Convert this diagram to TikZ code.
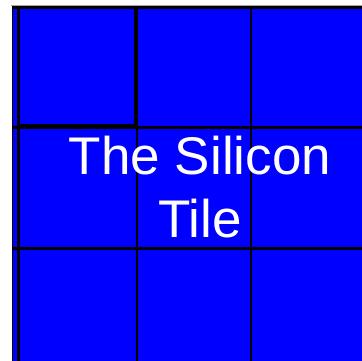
\documentclass[tikz,border=0pt]{standalone}
\usepackage{fontspec}
\setmainfont{Liberation Sans}
\begin{document}
\begin{tikzpicture}[x=1pt, y=-1pt,
  gridline/.style={black, line width=2.2pt},
  rowline/.style={black, line width=2.8pt},
  cellframe/.style={black, line width=3pt}]

% page frame, same size as the reference
\useasboundingbox (0,0) rectangle (362,361);

\begin{scope}
\clip (0,0) rectangle (362,361);
% tile body, runs off to the right and bottom
\fill[blue] (12,6) rectangle (362,361);
\draw[gray!70, line width=1.2pt] (11,5.4) -- (362,5.4);
\draw[black, line width=1.3pt] (12.6,6) -- (12.6,361);
\draw[black, line width=3pt] (12,7.6) -- (362,7.6);

% grid of cells
\foreach \gx in {18.5,137,251.3} {%
  \draw[gridline] (\gx,7.6) -- (\gx,361);
}
\foreach \gy in {127.6,248.6} {%
  \draw[rowline] (12,\gy) -- (362,\gy);
}

% first cell, heavier frame
\draw[cellframe] (18.5,7.6) rectangle (135.6,125.6);
\end{scope}

\node[white, inner sep=0pt, align=center, font=\fontsize{53}{63}\selectfont]
  (tiletext) at (200,187) {The Silicon\\Tile};

\end{tikzpicture}
\end{document}
